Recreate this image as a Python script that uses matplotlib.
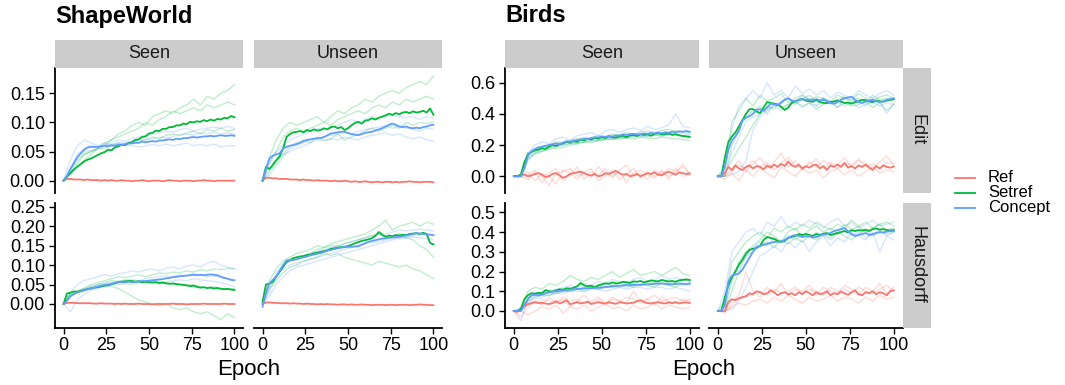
import numpy as np
import matplotlib.pyplot as plt
from matplotlib.lines import Line2D
from matplotlib.patches import Rectangle

plt.rcParams['font.family'] = ['Liberation Sans', 'DejaVu Sans']

# epochs for the mean curves and for the individual runs
epochs = np.arange(0, 101, 2)
run_epochs = np.arange(0, 101, 4)

series_names = ['Ref', 'Setref', 'Concept']
series_colors = ['#F8766D', '#00BA38', '#619CFF']

# ---------------- ShapeWorld, Seen, Edit ----------------
sw_seen_edit_ref = [
    0.000, 0.003, 0.003, 0.002, 0.002, 0.002, 0.001, 0.002, 0.001, 0.001,
    0.001, 0.000, 0.001, 0.000, 0.001, 0.000, 0.000, 0.001, 0.000, 0.000,
    -0.001, 0.000, 0.000, 0.001, 0.000, -0.001, 0.000, 0.000, 0.000, -0.001,
    0.000, 0.001, 0.000, 0.000, -0.001, 0.000, 0.000, 0.000, -0.001, 0.000,
    0.000, 0.001, 0.000, 0.000, -0.001, 0.000, 0.000, 0.000, 0.000, 0.000,
    0.000]
sw_seen_edit_setref = [
    0.000, 0.007, 0.013, 0.019, 0.024, 0.028, 0.033, 0.036, 0.038, 0.041,
    0.044, 0.047, 0.049, 0.053, 0.052, 0.057, 0.059, 0.062, 0.061, 0.065,
    0.066, 0.070, 0.071, 0.075, 0.076, 0.081, 0.082, 0.086, 0.085, 0.089,
    0.089, 0.092, 0.092, 0.095, 0.095, 0.098, 0.097, 0.101, 0.100, 0.102,
    0.101, 0.104, 0.102, 0.105, 0.103, 0.106, 0.105, 0.108, 0.107, 0.111,
    0.109]
sw_seen_edit_concept = [
    0.000, 0.008, 0.020, 0.030, 0.040, 0.047, 0.053, 0.057, 0.058, 0.058,
    0.058, 0.059, 0.060, 0.059, 0.061, 0.060, 0.062, 0.061, 0.063, 0.064,
    0.064, 0.065, 0.065, 0.067, 0.066, 0.067, 0.068, 0.067, 0.069, 0.069,
    0.070, 0.071, 0.070, 0.072, 0.071, 0.073, 0.073, 0.074, 0.075, 0.074,
    0.075, 0.076, 0.076, 0.077, 0.076, 0.077, 0.078, 0.077, 0.077, 0.078,
    0.077]
sw_seen_edit_setref_runs = [
    [0, 0.01, 0.025, 0.035, 0.045, 0.055, 0.06, 0.07, 0.08, 0.085, 0.095, 0.1, 0.095,
     0.11, 0.115, 0.12, 0.115, 0.125, 0.13, 0.14, 0.13, 0.145, 0.14, 0.15, 0.155, 0.165],
    [0, 0.015, 0.03, 0.045, 0.05, 0.055, 0.065, 0.07, 0.075, 0.08, 0.085, 0.09, 0.1,
     0.095, 0.105, 0.11, 0.12, 0.115, 0.12, 0.125, 0.12, 0.13, 0.125, 0.13, 0.135, 0.13],
    [0, 0.02, 0.035, 0.045, 0.05, 0.055, 0.055, 0.06, 0.065, 0.06, 0.065, 0.07, 0.07,
     0.075, 0.072, 0.078, 0.08, 0.078, 0.082, 0.085, 0.08, 0.088, 0.085, 0.09, 0.085, 0.088]]
sw_seen_edit_concept_runs = [
    [0, 0.035, 0.06, 0.07, 0.065, 0.06, 0.065, 0.06, 0.058, 0.062, 0.06, 0.058, 0.06,
     0.062, 0.06, 0.063, 0.06, 0.062, 0.065, 0.06, 0.062, 0.06, 0.063, 0.058, 0.06, 0.06],
    [0, 0.02, 0.045, 0.055, 0.06, 0.058, 0.062, 0.065, 0.07, 0.068, 0.072, 0.075, 0.078,
     0.08, 0.082, 0.085, 0.083, 0.088, 0.09, 0.085, 0.088, 0.09, 0.092, 0.09, 0.093, 0.09],
    [0, 0.015, 0.04, 0.05, 0.052, 0.055, 0.06, 0.062, 0.065, 0.065, 0.068, 0.07, 0.07,
     0.072, 0.075, 0.073, 0.076, 0.078, 0.08, 0.078, 0.082, 0.08, 0.083, 0.08, 0.082, 0.08]]

# ---------------- ShapeWorld, Unseen, Edit ----------------
sw_unseen_edit_ref = [
    0.000, 0.005, 0.005, 0.004, 0.004, 0.003, 0.003, 0.003, 0.002, 0.002,
    0.002, 0.001, 0.002, 0.001, 0.001, 0.000, 0.001, 0.000, 0.000, 0.000,
    -0.001, 0.000, -0.001, -0.001, 0.000, -0.001, -0.002, -0.001, -0.002, -0.002,
    -0.001, -0.002, -0.003, -0.002, -0.002, -0.003, -0.002, -0.002, -0.003, -0.002,
    -0.003, -0.002, -0.002, -0.001, -0.002, -0.002, -0.003, -0.002, -0.002, -0.002,
    -0.003]
sw_unseen_edit_setref = [
    0.000, 0.024, 0.020, 0.027, 0.035, 0.042, 0.055, 0.075, 0.080, 0.083,
    0.084, 0.085, 0.083, 0.087, 0.085, 0.088, 0.086, 0.087, 0.090, 0.088,
    0.092, 0.093, 0.090, 0.092, 0.087, 0.090, 0.095, 0.099, 0.101, 0.098,
    0.103, 0.104, 0.107, 0.105, 0.108, 0.110, 0.112, 0.115, 0.113, 0.116,
    0.114, 0.117, 0.118, 0.116, 0.119, 0.117, 0.118, 0.120, 0.117, 0.124,
    0.113]
sw_unseen_edit_concept = [
    0.000, 0.020, 0.038, 0.043, 0.045, 0.047, 0.055, 0.058, 0.060, 0.061,
    0.063, 0.065, 0.068, 0.070, 0.071, 0.072, 0.073, 0.073, 0.075, 0.078,
    0.081, 0.082, 0.083, 0.084, 0.084, 0.082, 0.080, 0.079, 0.078, 0.080,
    0.082, 0.083, 0.084, 0.086, 0.088, 0.090, 0.093, 0.096, 0.098, 0.096,
    0.093, 0.092, 0.093, 0.091, 0.090, 0.091, 0.090, 0.092, 0.093, 0.095,
    0.096]
sw_unseen_edit_setref_runs = [
    [0, 0.04, 0.07, 0.09, 0.1, 0.095, 0.1, 0.105, 0.11, 0.1, 0.11, 0.12, 0.115,
     0.125, 0.13, 0.14, 0.135, 0.145, 0.15, 0.155, 0.15, 0.16, 0.165, 0.17, 0.165, 0.18],
    [0, 0.03, 0.05, 0.075, 0.085, 0.09, 0.085, 0.09, 0.095, 0.1, 0.095, 0.105, 0.11,
     0.115, 0.12, 0.115, 0.125, 0.13, 0.125, 0.135, 0.13, 0.14, 0.135, 0.14, 0.145, 0.14],
    [0, 0.015, 0.03, 0.045, 0.06, 0.065, 0.07, 0.065, 0.075, 0.07, 0.072, 0.08, 0.07,
     0.075, 0.08, 0.085, 0.09, 0.085, 0.09, 0.095, 0.09, 0.1, 0.095, 0.1, 0.098, 0.1]]
sw_unseen_edit_concept_runs = [
    [0, 0.03, 0.05, 0.06, 0.07, 0.075, 0.08, 0.085, 0.09, 0.088, 0.092, 0.095, 0.1,
     0.105, 0.1, 0.105, 0.11, 0.108, 0.11, 0.112, 0.11, 0.108, 0.11, 0.105, 0.11, 0.108],
    [0, 0.02, 0.035, 0.045, 0.05, 0.055, 0.06, 0.065, 0.07, 0.068, 0.072, 0.07, 0.075,
     0.072, 0.07, 0.075, 0.078, 0.08, 0.082, 0.078, 0.08, 0.075, 0.072, 0.075, 0.07, 0.068],
    [0, 0.01, 0.025, 0.04, 0.055, 0.06, 0.065, 0.07, 0.072, 0.075, 0.078, 0.08, 0.082,
     0.08, 0.085, 0.088, 0.09, 0.092, 0.095, 0.09, 0.093, 0.09, 0.088, 0.085, 0.09, 0.088]]

# ---------------- ShapeWorld, Seen, Hausdorff ----------------
sw_seen_haus_ref = [
    0.000, 0.003, 0.003, 0.003, 0.002, 0.002, 0.002, 0.002, 0.002, 0.001,
    0.001, 0.002, 0.001, 0.001, 0.001, 0.000, 0.001, 0.000, 0.001, 0.000,
    0.000, 0.000, 0.001, 0.000, 0.000, 0.000, -0.001, 0.000, 0.000, 0.000,
    0.000, 0.000, 0.001, 0.000, 0.000, 0.000, -0.001, 0.000, 0.000, 0.000,
    0.000, 0.001, 0.000, 0.000, 0.000, 0.000, 0.000, 0.001, 0.000, 0.000,
    0.000]
sw_seen_haus_setref = [
    0.000, 0.027, 0.029, 0.032, 0.031, 0.034, 0.036, 0.038, 0.040, 0.042,
    0.043, 0.045, 0.047, 0.048, 0.051, 0.053, 0.056, 0.057, 0.058, 0.059,
    0.059, 0.057, 0.058, 0.056, 0.057, 0.056, 0.055, 0.056, 0.054, 0.055,
    0.053, 0.052, 0.053, 0.051, 0.050, 0.049, 0.048, 0.046, 0.047, 0.044,
    0.042, 0.043, 0.041, 0.042, 0.040, 0.041, 0.039, 0.038, 0.039, 0.037,
    0.036]
sw_seen_haus_concept = [
    0.000, 0.008, 0.020, 0.025, 0.030, 0.032, 0.035, 0.038, 0.040, 0.042,
    0.045, 0.047, 0.049, 0.050, 0.052, 0.054, 0.056, 0.056, 0.056, 0.057,
    0.056, 0.057, 0.058, 0.059, 0.059, 0.060, 0.061, 0.062, 0.063, 0.064,
    0.066, 0.067, 0.069, 0.070, 0.071, 0.072, 0.073, 0.074, 0.075, 0.074,
    0.075, 0.074, 0.075, 0.076, 0.075, 0.074, 0.070, 0.067, 0.065, 0.062,
    0.061]
sw_seen_haus_setref_runs = [
    [0, 0.025, 0.03, 0.035, 0.04, 0.045, 0.05, 0.045, 0.04, 0.03, 0.02, 0.01, 0.005,
     0.0, -0.005, 0.0, -0.01, -0.015, -0.01, -0.02, -0.025, -0.02, -0.03, -0.04, -0.025, -0.035],
    [0, 0.03, 0.035, 0.04, 0.05, 0.055, 0.06, 0.065, 0.07, 0.068, 0.072, 0.075, 0.07,
     0.075, 0.08, 0.078, 0.082, 0.08, 0.085, 0.082, 0.088, 0.085, 0.09, 0.088, 0.092, 0.09],
    [0, 0.025, 0.03, 0.035, 0.045, 0.05, 0.055, 0.06, 0.058, 0.062, 0.06, 0.058, 0.055,
     0.058, 0.052, 0.055, 0.05, 0.052, 0.048, 0.05, 0.045, 0.042, 0.045, 0.04, 0.038, 0.04]]
sw_seen_haus_concept_runs = [
    [0, 0.03, 0.05, 0.06, 0.065, 0.07, 0.075, 0.072, 0.078, 0.08, 0.085, 0.082, 0.088,
     0.09, 0.085, 0.092, 0.095, 0.09, 0.098, 0.1, 0.095, 0.105, 0.11, 0.1, 0.095, 0.09],
    [0, 0.02, 0.03, 0.04, 0.045, 0.05, 0.052, 0.055, 0.058, 0.06, 0.062, 0.06, 0.065,
     0.068, 0.07, 0.072, 0.07, 0.075, 0.073, 0.078, 0.075, 0.07, 0.072, 0.068, 0.065, 0.062],
    [0, -0.02, 0.01, 0.025, 0.035, 0.04, 0.045, 0.048, 0.05, 0.052, 0.05, 0.055, 0.054,
     0.056, 0.058, 0.056, 0.06, 0.062, 0.06, 0.065, 0.062, 0.06, 0.058, 0.055, 0.05, 0.045]]

# ---------------- ShapeWorld, Unseen, Hausdorff ----------------
sw_unseen_haus_ref = [
    0.000, 0.004, 0.004, 0.003, 0.003, 0.002, 0.002, 0.002, 0.001, 0.002,
    0.001, 0.001, 0.000, 0.001, 0.000, 0.000, -0.001, 0.000, -0.001, 0.000,
    -0.001, -0.001, -0.002, -0.001, -0.001, -0.002, -0.001, -0.002, -0.002, -0.001,
    -0.002, -0.002, -0.003, -0.002, -0.002, -0.002, -0.003, -0.002, -0.002, -0.003,
    -0.002, -0.002, -0.002, -0.003, -0.002, -0.002, -0.001, -0.002, -0.002, -0.003,
    -0.003]
sw_unseen_haus_setref = [
    0.006, 0.050, 0.052, 0.057, 0.070, 0.083, 0.095, 0.108, 0.113, 0.118,
    0.120, 0.122, 0.123, 0.126, 0.127, 0.130, 0.132, 0.134, 0.136, 0.138,
    0.142, 0.143, 0.145, 0.146, 0.147, 0.149, 0.152, 0.156, 0.159, 0.162,
    0.164, 0.166, 0.169, 0.175, 0.185, 0.178, 0.173, 0.176, 0.174, 0.177,
    0.176, 0.178, 0.177, 0.180, 0.181, 0.182, 0.180, 0.183, 0.180, 0.157,
    0.153]
sw_unseen_haus_concept = [
    -0.007, 0.030, 0.053, 0.062, 0.070, 0.085, 0.100, 0.112, 0.113, 0.113,
    0.115, 0.118, 0.120, 0.122, 0.125, 0.127, 0.129, 0.131, 0.134, 0.137,
    0.139, 0.141, 0.143, 0.145, 0.146, 0.147, 0.147, 0.148, 0.148, 0.152,
    0.156, 0.160, 0.162, 0.164, 0.166, 0.168, 0.169, 0.170, 0.171, 0.172,
    0.173, 0.174, 0.176, 0.178, 0.180, 0.182, 0.181, 0.180, 0.179, 0.178,
    0.177]
sw_unseen_haus_setref_runs = [
    [0, 0.04, 0.06, 0.08, 0.095, 0.1, 0.11, 0.115, 0.12, 0.13, 0.125, 0.13, 0.12,
     0.115, 0.11, 0.105, 0.1, 0.11, 0.105, 0.1, 0.095, 0.1, 0.09, 0.085, 0.075, 0.065],
    [0, 0.06, 0.09, 0.11, 0.12, 0.13, 0.135, 0.14, 0.15, 0.145, 0.155, 0.16, 0.165,
     0.17, 0.175, 0.18, 0.19, 0.2, 0.215, 0.19, 0.2, 0.205, 0.21, 0.2, 0.21, 0.205],
    [0, 0.05, 0.07, 0.1, 0.11, 0.12, 0.125, 0.13, 0.14, 0.145, 0.15, 0.148, 0.155,
     0.16, 0.165, 0.17, 0.175, 0.18, 0.17, 0.175, 0.18, 0.17, 0.165, 0.15, 0.14, 0.12]]
sw_unseen_haus_concept_runs = [
    [0, 0.04, 0.08, 0.1, 0.11, 0.115, 0.12, 0.13, 0.135, 0.14, 0.145, 0.15, 0.155,
     0.16, 0.165, 0.17, 0.175, 0.178, 0.18, 0.185, 0.19, 0.188, 0.19, 0.192, 0.19, 0.188],
    [0, 0.02, 0.05, 0.07, 0.085, 0.095, 0.1, 0.105, 0.11, 0.115, 0.12, 0.125, 0.13,
     0.135, 0.14, 0.145, 0.15, 0.155, 0.16, 0.165, 0.17, 0.172, 0.175, 0.178, 0.18, 0.175],
    [0, 0.03, 0.07, 0.09, 0.1, 0.105, 0.11, 0.115, 0.12, 0.125, 0.13, 0.135, 0.14,
     0.145, 0.15, 0.155, 0.158, 0.16, 0.165, 0.17, 0.168, 0.17, 0.172, 0.17, 0.168, 0.165]]

# ---------------- Birds, Seen, Edit ----------------
bd_seen_edit_ref = [
    0.000, 0.000, 0.005, 0.012, 0.000, 0.005, 0.015, 0.020, 0.010, -0.005,
    0.000, 0.015, 0.020, 0.005, -0.010, 0.000, 0.015, 0.020, 0.025, 0.030,
    0.020, 0.010, 0.005, 0.015, 0.000, 0.005, 0.020, 0.015, 0.025, 0.035,
    0.020, 0.010, 0.015, 0.000, 0.005, 0.015, 0.000, 0.010, 0.020, 0.015,
    0.025, 0.010, 0.005, 0.020, 0.030, 0.020, 0.010, 0.025, 0.020, 0.015,
    0.018]
bd_seen_edit_setref = [
    0.000, 0.000, 0.010, 0.090, 0.140, 0.155, 0.165, 0.170, 0.180, 0.175,
    0.190, 0.200, 0.195, 0.205, 0.210, 0.220, 0.215, 0.225, 0.220, 0.235,
    0.230, 0.240, 0.235, 0.245, 0.240, 0.250, 0.245, 0.255, 0.250, 0.248,
    0.255, 0.260, 0.250, 0.262, 0.265, 0.258, 0.270, 0.265, 0.268, 0.260,
    0.272, 0.276, 0.268, 0.270, 0.275, 0.265, 0.270, 0.262, 0.258, 0.255,
    0.252]
bd_seen_edit_concept = [
    0.000, 0.000, 0.000, 0.050, 0.130, 0.160, 0.175, 0.185, 0.190, 0.195,
    0.200, 0.205, 0.210, 0.205, 0.215, 0.225, 0.220, 0.228, 0.232, 0.235,
    0.240, 0.238, 0.245, 0.250, 0.248, 0.255, 0.252, 0.258, 0.255, 0.262,
    0.260, 0.268, 0.265, 0.270, 0.272, 0.268, 0.270, 0.275, 0.272, 0.278,
    0.275, 0.280, 0.276, 0.282, 0.280, 0.285, 0.282, 0.288, 0.285, 0.290,
    0.285]
bd_seen_edit_ref_runs = [
    [0, 0.0, -0.02, 0.03, -0.04, 0.02, 0.05, -0.03, 0.01, 0.06, -0.02, 0.03, 0.0,
     0.05, -0.01, 0.04, 0.07, 0.0, 0.02, -0.02, 0.04, 0.01, 0.05, 0.03, 0.06, 0.02],
    [0, 0.0, 0.03, -0.03, 0.02, 0.0, -0.05, 0.04, 0.02, -0.02, 0.03, 0.05, -0.03,
     0.0, 0.04, -0.02, 0.01, 0.05, -0.01, 0.03, 0.0, 0.04, -0.02, 0.05, 0.0, 0.01],
    [0, -0.01, 0.01, 0.04, 0.0, -0.06, 0.02, 0.03, 0.05, 0.0, 0.02, -0.01, 0.06,
     0.02, 0.0, 0.03, -0.04, 0.02, 0.04, 0.01, -0.01, 0.03, 0.0, 0.02, 0.08, 0.01]]
bd_seen_edit_setref_runs = [
    [0, 0.005, 0.15, 0.17, 0.19, 0.2, 0.22, 0.215, 0.23, 0.24, 0.25, 0.245, 0.26,
     0.255, 0.27, 0.265, 0.28, 0.27, 0.285, 0.29, 0.28, 0.295, 0.3, 0.29, 0.285, 0.28],
    [0, 0.01, 0.12, 0.15, 0.16, 0.18, 0.19, 0.2, 0.21, 0.215, 0.22, 0.225, 0.23,
     0.24, 0.235, 0.24, 0.245, 0.24, 0.25, 0.245, 0.24, 0.25, 0.245, 0.24, 0.235, 0.23],
    [0, 0.0, 0.11, 0.14, 0.16, 0.17, 0.18, 0.185, 0.2, 0.21, 0.22, 0.215, 0.23,
     0.235, 0.24, 0.245, 0.25, 0.255, 0.26, 0.255, 0.265, 0.26, 0.27, 0.265, 0.26, 0.255]]
bd_seen_edit_concept_runs = [
    [0, 0.0, 0.15, 0.2, 0.22, 0.21, 0.24, 0.25, 0.23, 0.26, 0.27, 0.28, 0.26,
     0.29, 0.3, 0.28, 0.3, 0.31, 0.29, 0.32, 0.3, 0.31, 0.33, 0.4, 0.32, 0.31],
    [0, 0.0, 0.13, 0.17, 0.18, 0.2, 0.21, 0.22, 0.225, 0.23, 0.24, 0.235, 0.25,
     0.245, 0.255, 0.26, 0.25, 0.265, 0.26, 0.27, 0.265, 0.275, 0.27, 0.28, 0.275, 0.27],
    [0, 0.0, 0.1, 0.15, 0.17, 0.18, 0.19, 0.2, 0.21, 0.205, 0.22, 0.23, 0.225,
     0.235, 0.24, 0.25, 0.245, 0.255, 0.25, 0.26, 0.265, 0.255, 0.27, 0.265, 0.26, 0.265]]

# ---------------- Birds, Unseen, Edit ----------------
bd_unseen_edit_ref = [
    0.000, 0.000, 0.020, 0.060, 0.040, 0.070, 0.050, 0.040, 0.060, 0.070,
    0.050, 0.065, 0.060, 0.045, 0.070, 0.055, 0.075, 0.060, 0.080, 0.065,
    0.095, 0.070, 0.060, 0.075, 0.050, 0.065, 0.055, 0.070, 0.075, 0.050,
    0.065, 0.040, 0.070, 0.060, 0.075, 0.060, 0.085, 0.055, 0.065, 0.050,
    0.070, 0.060, 0.075, 0.055, 0.040, 0.065, 0.050, 0.070, 0.060, 0.055,
    0.062]
bd_unseen_edit_setref = [
    0.000, 0.000, 0.120, 0.220, 0.255, 0.280, 0.320, 0.360, 0.400, 0.430,
    0.430, 0.415, 0.405, 0.440, 0.475, 0.470, 0.465, 0.460, 0.445, 0.425,
    0.440, 0.470, 0.480, 0.490, 0.495, 0.485, 0.480, 0.478, 0.490, 0.475,
    0.470, 0.468, 0.475, 0.480, 0.485, 0.478, 0.470, 0.472, 0.465, 0.475,
    0.480, 0.490, 0.488, 0.480, 0.475, 0.485, 0.480, 0.478, 0.485, 0.490,
    0.494]
bd_unseen_edit_concept = [
    0.000, 0.000, 0.060, 0.170, 0.230, 0.255, 0.290, 0.360, 0.375, 0.385,
    0.400, 0.425, 0.430, 0.420, 0.440, 0.465, 0.460, 0.455, 0.470, 0.490,
    0.500, 0.485, 0.480, 0.490, 0.495, 0.490, 0.492, 0.488, 0.495, 0.485,
    0.490, 0.480, 0.470, 0.465, 0.475, 0.490, 0.500, 0.505, 0.510, 0.490,
    0.475, 0.470, 0.480, 0.485, 0.490, 0.480, 0.475, 0.480, 0.490, 0.495,
    0.500]
bd_unseen_edit_ref_runs = [
    [0, 0.0, 0.05, 0.1, 0.03, 0.08, 0.12, 0.05, 0.09, 0.15, 0.06, 0.1, 0.04,
     0.08, 0.11, 0.05, 0.09, 0.07, 0.12, 0.06, 0.1, 0.08, 0.05, 0.09, 0.13, 0.07],
    [0, -0.02, 0.02, -0.03, 0.04, 0.0, 0.05, 0.02, -0.01, 0.06, 0.03, 0.0, 0.05,
     0.02, 0.04, -0.01, 0.03, 0.05, 0.01, 0.04, 0.0, 0.03, 0.06, 0.02, 0.04, 0.03],
    [0, 0.0, 0.03, 0.07, 0.05, 0.1, 0.06, 0.09, 0.04, 0.08, 0.12, 0.07, 0.05,
     0.09, 0.06, 0.1, 0.08, 0.05, 0.09, 0.07, 0.11, 0.06, 0.08, 0.05, 0.09, 0.08]]
bd_unseen_edit_setref_runs = [
    [0, 0.05, 0.35, 0.42, 0.5, 0.45, 0.52, 0.48, 0.5, 0.53, 0.47, 0.5, 0.52,
     0.49, 0.51, 0.5, 0.48, 0.52, 0.5, 0.49, 0.53, 0.5, 0.48, 0.51, 0.52, 0.5],
    [0, 0.0, 0.2, 0.3, 0.38, 0.42, 0.45, 0.4, 0.47, 0.44, 0.46, 0.48, 0.45,
     0.47, 0.43, 0.46, 0.48, 0.44, 0.47, 0.45, 0.46, 0.48, 0.44, 0.47, 0.42, 0.46],
    [0, 0.02, 0.1, 0.18, 0.25, 0.33, 0.4, 0.45, 0.43, 0.48, 0.5, 0.46, 0.49,
     0.52, 0.48, 0.5, 0.47, 0.49, 0.51, 0.48, 0.5, 0.47, 0.52, 0.49, 0.5, 0.48]]
bd_unseen_edit_concept_runs = [
    [0, 0.0, 0.01, 0.03, 0.1, 0.3, 0.38, 0.42, 0.45, 0.48, 0.5, 0.47, 0.52,
     0.49, 0.45, 0.5, 0.48, 0.44, 0.5, 0.47, 0.49, 0.45, 0.5, 0.48, 0.4, 0.47],
    [0, 0.05, 0.3, 0.45, 0.5, 0.55, 0.5, 0.6, 0.52, 0.55, 0.5, 0.58, 0.53,
     0.56, 0.52, 0.55, 0.5, 0.54, 0.52, 0.5, 0.55, 0.52, 0.5, 0.53, 0.55, 0.52],
    [0, 0.0, 0.15, 0.25, 0.35, 0.38, 0.4, 0.43, 0.45, 0.42, 0.46, 0.48, 0.44,
     0.47, 0.45, 0.5, 0.46, 0.48, 0.45, 0.47, 0.44, 0.46, 0.48, 0.45, 0.47, 0.46]]

# ---------------- Birds, Seen, Hausdorff ----------------
bd_seen_haus_ref = [
    0.000, -0.005, 0.010, 0.025, 0.035, 0.040, 0.045, 0.040, 0.042, 0.038,
    0.035, 0.040, 0.050, 0.038, 0.045, 0.055, 0.034, 0.040, 0.045, 0.038,
    0.042, 0.047, 0.035, 0.040, 0.045, 0.040, 0.038, 0.044, 0.040, 0.036,
    0.045, 0.042, 0.038, 0.040, 0.042, 0.050, 0.055, 0.045, 0.040, 0.038,
    0.042, 0.045, 0.040, 0.038, 0.044, 0.040, 0.045, 0.038, 0.042, 0.044,
    0.040]
bd_seen_haus_setref = [
    0.000, 0.000, 0.010, 0.060, 0.080, 0.090, 0.088, 0.092, 0.090, 0.106,
    0.100, 0.098, 0.105, 0.110, 0.108, 0.115, 0.112, 0.118, 0.125, 0.142,
    0.130, 0.125, 0.128, 0.120, 0.130, 0.135, 0.140, 0.138, 0.145, 0.140,
    0.142, 0.148, 0.145, 0.142, 0.150, 0.148, 0.152, 0.145, 0.150, 0.155,
    0.152, 0.150, 0.157, 0.153, 0.150, 0.152, 0.148, 0.155, 0.158, 0.160,
    0.157]
bd_seen_haus_concept = [
    0.000, 0.000, 0.000, 0.030, 0.060, 0.080, 0.082, 0.080, 0.083, 0.090,
    0.095, 0.098, 0.100, 0.102, 0.104, 0.106, 0.108, 0.110, 0.112, 0.113,
    0.115, 0.115, 0.116, 0.117, 0.118, 0.120, 0.121, 0.123, 0.125, 0.126,
    0.128, 0.130, 0.132, 0.131, 0.132, 0.133, 0.132, 0.134, 0.135, 0.136,
    0.138, 0.139, 0.140, 0.138, 0.136, 0.135, 0.137, 0.139, 0.138, 0.136,
    0.140]
bd_seen_haus_ref_runs = [
    [0, -0.03, 0.02, 0.05, 0.03, 0.07, 0.04, 0.06, 0.02, 0.05, 0.08, 0.04, 0.06,
     0.03, 0.07, 0.05, 0.04, 0.1, 0.05, 0.06, 0.03, 0.07, 0.05, 0.04, 0.06, 0.05],
    [0, 0.0, -0.02, 0.0, 0.02, 0.01, 0.03, -0.01, 0.02, 0.01, 0.03, 0.0, 0.02,
     0.04, 0.01, 0.02, 0.0, 0.03, 0.01, 0.02, 0.04, 0.01, 0.03, 0.02, 0.01, 0.02],
    [0, 0.0, 0.03, 0.04, 0.06, 0.05, 0.04, 0.07, 0.05, 0.06, 0.04, 0.05, 0.07,
     0.04, 0.06, 0.05, 0.07, 0.06, 0.04, 0.06, 0.08, 0.05, 0.06, 0.07, 0.05, 0.06]]
bd_seen_haus_setref_runs = [
    [0, 0.01, 0.1, 0.12, 0.11, 0.14, 0.13, 0.15, 0.18, 0.16, 0.15, 0.17, 0.16,
     0.18, 0.2, 0.17, 0.19, 0.21, 0.18, 0.19, 0.2, 0.18, 0.2, 0.22, 0.19, 0.18],
    [0, 0.0, 0.07, 0.08, 0.09, 0.1, 0.1, 0.11, 0.12, 0.11, 0.12, 0.13, 0.12,
     0.14, 0.13, 0.14, 0.15, 0.14, 0.13, 0.15, 0.14, 0.16, 0.14, 0.15, 0.16, 0.15],
    [0, 0.0, 0.05, 0.07, 0.08, 0.08, 0.09, 0.1, 0.1, 0.11, 0.1, 0.12, 0.11,
     0.12, 0.13, 0.12, 0.13, 0.12, 0.14, 0.13, 0.12, 0.14, 0.13, 0.12, 0.14, 0.13]]
bd_seen_haus_concept_runs = [
    [0, -0.05, 0.06, 0.08, 0.09, 0.1, 0.11, 0.12, 0.13, 0.12, 0.14, 0.13, 0.15,
     0.14, 0.16, 0.15, 0.14, 0.16, 0.17, 0.15, 0.16, 0.18, 0.16, 0.17, 0.16, 0.15],
    [0, 0.0, 0.05, 0.07, 0.08, 0.09, 0.09, 0.1, 0.1, 0.11, 0.11, 0.12, 0.11,
     0.12, 0.12, 0.13, 0.12, 0.13, 0.13, 0.14, 0.13, 0.14, 0.13, 0.14, 0.13, 0.14],
    [0, 0.02, 0.04, 0.06, 0.07, 0.08, 0.09, 0.09, 0.1, 0.1, 0.1, 0.11, 0.11,
     0.1, 0.11, 0.12, 0.11, 0.12, 0.12, 0.11, 0.12, 0.12, 0.11, 0.12, 0.11, 0.1]]

# ---------------- Birds, Unseen, Hausdorff ----------------
bd_unseen_haus_ref = [
    0.000, 0.000, 0.000, 0.045, 0.060, 0.055, 0.065, 0.070, 0.075, 0.090,
    0.085, 0.100, 0.095, 0.085, 0.090, 0.105, 0.095, 0.080, 0.090, 0.095,
    0.085, 0.090, 0.080, 0.095, 0.085, 0.100, 0.090, 0.080, 0.095, 0.085,
    0.090, 0.100, 0.080, 0.090, 0.085, 0.098, 0.090, 0.082, 0.095, 0.105,
    0.085, 0.080, 0.095, 0.090, 0.100, 0.085, 0.095, 0.090, 0.080, 0.100,
    0.105]
bd_unseen_haus_setref = [
    0.000, 0.000, 0.070, 0.130, 0.170, 0.200, 0.235, 0.260, 0.290, 0.310,
    0.315, 0.320, 0.330, 0.360, 0.375, 0.370, 0.365, 0.355, 0.350, 0.355,
    0.370, 0.375, 0.380, 0.390, 0.385, 0.390, 0.385, 0.380, 0.390, 0.385,
    0.392, 0.395, 0.385, 0.390, 0.395, 0.400, 0.405, 0.398, 0.410, 0.405,
    0.410, 0.408, 0.412, 0.405, 0.415, 0.418, 0.412, 0.415, 0.410, 0.408,
    0.410]
bd_unseen_haus_concept = [
    0.000, 0.000, 0.030, 0.150, 0.180, 0.185, 0.190, 0.210, 0.240, 0.270,
    0.300, 0.325, 0.330, 0.335, 0.340, 0.345, 0.350, 0.350, 0.352, 0.360,
    0.370, 0.380, 0.385, 0.380, 0.375, 0.378, 0.380, 0.372, 0.375, 0.382,
    0.388, 0.390, 0.395, 0.405, 0.410, 0.415, 0.420, 0.405, 0.390, 0.380,
    0.385, 0.390, 0.395, 0.385, 0.390, 0.395, 0.400, 0.398, 0.402, 0.405,
    0.405]
bd_unseen_haus_ref_runs = [
    [0, 0.0, 0.05, 0.08, 0.2, 0.1, 0.07, 0.12, 0.09, 0.14, 0.08, 0.11, 0.1,
     0.13, 0.08, 0.12, 0.1, 0.09, 0.13, 0.11, 0.08, 0.12, 0.1, 0.14, 0.09, 0.12],
    [0, 0.0, 0.02, 0.04, 0.03, 0.05, 0.06, 0.04, 0.07, 0.05, 0.08, 0.06, 0.04,
     0.07, 0.05, 0.06, 0.08, 0.05, 0.07, 0.06, 0.04, 0.07, 0.05, 0.08, 0.06, 0.07],
    [0, -0.01, 0.03, 0.06, 0.07, 0.09, 0.1, 0.08, 0.11, 0.09, 0.1, 0.12, 0.09,
     0.11, 0.1, 0.08, 0.12, 0.1, 0.11, 0.09, 0.12, 0.1, 0.09, 0.11, 0.13, 0.1]]
bd_unseen_haus_setref_runs = [
    [0, 0.05, 0.25, 0.3, 0.35, 0.38, 0.4, 0.37, 0.42, 0.4, 0.43, 0.41, 0.44,
     0.42, 0.45, 0.43, 0.41, 0.44, 0.42, 0.46, 0.43, 0.45, 0.42, 0.44, 0.45, 0.43],
    [0, 0.0, 0.1, 0.2, 0.28, 0.3, 0.33, 0.35, 0.32, 0.36, 0.34, 0.37, 0.35,
     0.38, 0.36, 0.39, 0.37, 0.4, 0.38, 0.36, 0.39, 0.41, 0.38, 0.4, 0.39, 0.4],
    [0, 0.02, 0.15, 0.25, 0.3, 0.33, 0.36, 0.4, 0.38, 0.35, 0.4, 0.42, 0.38,
     0.41, 0.43, 0.4, 0.42, 0.39, 0.44, 0.41, 0.43, 0.4, 0.42, 0.44, 0.41, 0.42]]
bd_unseen_haus_concept_runs = [
    [0, 0.0, 0.01, 0.05, 0.12, 0.2, 0.28, 0.3, 0.33, 0.3, 0.35, 0.32, 0.36,
     0.3, 0.35, 0.38, 0.33, 0.37, 0.35, 0.4, 0.38, 0.36, 0.4, 0.3, 0.38, 0.36],
    [0, 0.1, 0.3, 0.35, 0.4, 0.42, 0.38, 0.45, 0.43, 0.48, 0.42, 0.45, 0.43,
     0.46, 0.44, 0.42, 0.45, 0.47, 0.43, 0.45, 0.42, 0.44, 0.46, 0.43, 0.44, 0.45],
    [0, 0.0, 0.18, 0.22, 0.28, 0.32, 0.35, 0.33, 0.37, 0.35, 0.38, 0.36, 0.39,
     0.37, 0.4, 0.38, 0.36, 0.39, 0.41, 0.38, 0.4, 0.37, 0.39, 0.41, 0.38, 0.4]]

# panel contents: (means, individual runs) per (row, col)
shapeworld_panels = {
    (0, 0): ([sw_seen_edit_ref, sw_seen_edit_setref, sw_seen_edit_concept],
             [[], sw_seen_edit_setref_runs, sw_seen_edit_concept_runs]),
    (0, 1): ([sw_unseen_edit_ref, sw_unseen_edit_setref, sw_unseen_edit_concept],
             [[], sw_unseen_edit_setref_runs, sw_unseen_edit_concept_runs]),
    (1, 0): ([sw_seen_haus_ref, sw_seen_haus_setref, sw_seen_haus_concept],
             [[], sw_seen_haus_setref_runs, sw_seen_haus_concept_runs]),
    (1, 1): ([sw_unseen_haus_ref, sw_unseen_haus_setref, sw_unseen_haus_concept],
             [[], sw_unseen_haus_setref_runs, sw_unseen_haus_concept_runs]),
}
birds_panels = {
    (0, 0): ([bd_seen_edit_ref, bd_seen_edit_setref, bd_seen_edit_concept],
             [bd_seen_edit_ref_runs, bd_seen_edit_setref_runs, bd_seen_edit_concept_runs]),
    (0, 1): ([bd_unseen_edit_ref, bd_unseen_edit_setref, bd_unseen_edit_concept],
             [bd_unseen_edit_ref_runs, bd_unseen_edit_setref_runs, bd_unseen_edit_concept_runs]),
    (1, 0): ([bd_seen_haus_ref, bd_seen_haus_setref, bd_seen_haus_concept],
             [bd_seen_haus_ref_runs, bd_seen_haus_setref_runs, bd_seen_haus_concept_runs]),
    (1, 1): ([bd_unseen_haus_ref, bd_unseen_haus_setref, bd_unseen_haus_concept],
             [bd_unseen_haus_ref_runs, bd_unseen_haus_setref_runs, bd_unseen_haus_concept_runs]),
}

col_labels = ['Seen', 'Unseen']
row_labels = ['Edit', 'Hausdorff']
x_ticks = [0, 25, 50, 75, 100]

W, H = 1065, 385
fig = plt.figure(figsize=(W / 100, H / 100), dpi=100)


def frac(x0, y0, x1, y1):
    # pixel box (top-left origin) -> figure fraction [left, bottom, width, height]
    return [x0 / W, 1 - y1 / H, (x1 - x0) / W, (y1 - y0) / H]


def strip(x0, y0, x1, y1, label, rotation=0):
    fig.patches.append(Rectangle((x0 / W, 1 - y1 / H), (x1 - x0) / W, (y1 - y0) / H,
                                 transform=fig.transFigure, facecolor='#cccccc',
                                 edgecolor='none'))
    fig.text((x0 + x1) / 2 / W, 1 - (y0 + y1) / 2 / H, label, rotation=rotation,
             ha='center', va='center', fontsize=13, color='#1a1a1a')


rows_px = [(67.5, 192.5), (202.5, 327.5)]

groups = [
    dict(title='ShapeWorld', cols=[(55, 243), (254, 442)], panels=shapeworld_panels,
         ylims=[(-0.0203, 0.1943), (-0.0604, 0.2608)],
         yticks=[[0, 0.05, 0.10, 0.15], [0, 0.05, 0.10, 0.15, 0.20, 0.25]],
         fmt='{:.2f}', row_strips=False),
    dict(title='Birds', cols=[(505, 698.6), (709, 902.6)], panels=birds_panels,
         ylims=[(-0.104, 0.697), (-0.0836, 0.5497)],
         yticks=[[0, 0.2, 0.4, 0.6], [0, 0.1, 0.2, 0.3, 0.4, 0.5]],
         fmt='{:.1f}', row_strips=True),
]

for g in groups:
    for r, (y0, y1) in enumerate(rows_px):
        for c, (x0, x1) in enumerate(g['cols']):
            ax = fig.add_axes(frac(x0, y0, x1, y1))
            means, runs = g['panels'][(r, c)]
            for k in range(3):
                for run in runs[k]:
                    ax.plot(run_epochs[:len(run)], run, color=series_colors[k],
                            alpha=0.25, lw=1.0)
            for k in range(3):
                ax.plot(epochs[:len(means[k])], means[k], color=series_colors[k], lw=1.3)
            ax.set_xlim(-5, 105)
            ax.set_ylim(*g['ylims'][r])
            for s in ['top', 'right']:
                ax.spines[s].set_visible(False)
            for s in ['left', 'bottom']:
                ax.spines[s].set_linewidth(1.3)
            ax.tick_params(length=4.2, width=1.0, pad=3, labelsize=13,
                           color='black', labelcolor='black')
            if c == 0:
                ax.set_yticks(g['yticks'][r])
                ax.set_yticklabels([g['fmt'].format(v) for v in g['yticks'][r]])
            else:
                ax.spines['left'].set_visible(False)
                ax.tick_params(left=False, labelleft=False)
            if r == 1:
                ax.set_xticks(x_ticks)
                ax.set_xticklabels([str(v) for v in x_ticks])
            else:
                ax.spines['bottom'].set_visible(False)
                ax.tick_params(bottom=False, labelbottom=False)
    for c, (x0, x1) in enumerate(g['cols']):
        strip(x0, 40, x1, 67.5, col_labels[c])
    if g['row_strips']:
        xr = g['cols'][1][1]
        for r, (y0, y1) in enumerate(rows_px):
            strip(xr, y0, xr + 28.5, y1, row_labels[r], rotation=-90)
    left = g['cols'][0][0]
    right = g['cols'][1][1]
    fig.text(left / W, 1 - 16 / H, g['title'], fontsize=17, fontweight='bold',
             ha='left', va='center')
    fig.text((left + right) / 2 / W, 1 - 369 / H, 'Epoch', fontsize=16,
             ha='center', va='center')

# legend drawn by hand so its spacing matches the tight ggplot key
for k, name in enumerate(series_names):
    y = 1 - (177.5 + 15 * k) / H
    fig.add_artist(Line2D([955 / W, 975 / W], [y, y], transform=fig.transFigure,
                          color=series_colors[k], lw=1.3))
    fig.text(988 / W, y, name, fontsize=12, ha='left', va='center')

fig.savefig('out.png', dpi=100)
